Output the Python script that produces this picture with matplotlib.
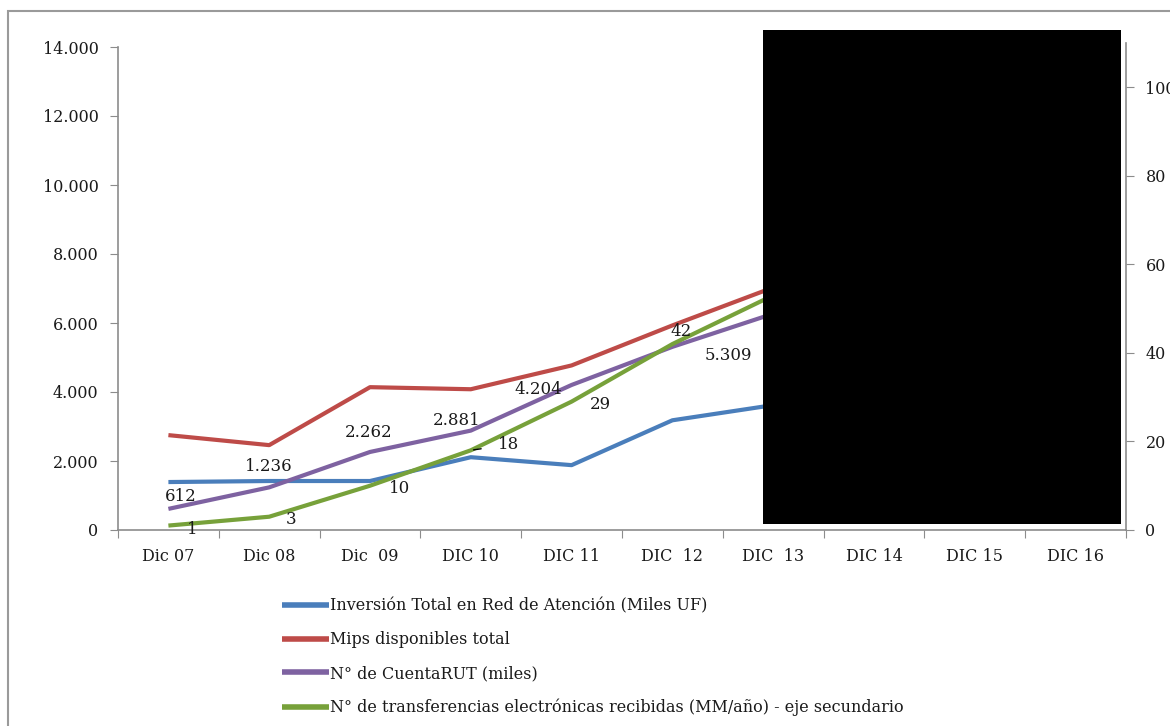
import matplotlib
matplotlib.use('Agg')
import matplotlib.pyplot as plt
from matplotlib.patches import Rectangle
from matplotlib.ticker import FuncFormatter

plt.rcParams['font.family'] = ['DejaVu Serif']

periods = ['Dic 07', 'Dic 08', 'Dic  09', 'DIC 10', 'DIC 11',
           'DIC  12', 'DIC  13', 'DIC 14', 'DIC 15', 'DIC 16']

# series known through DIC 13
inversion = [1390, 1420, 1420, 2110, 1880, 3180, 3620]
mips = [2750, 2460, 4140, 4080, 4770, 5930, 7030]
cuentarut = [612, 1236, 2262, 2881, 4204, 5309, 6270]
transferencias = [1, 3, 10, 18, 29, 42, 53]   # secondary axis

rut_labels = ['612', '1.236', '2.262', '2.881', '4.204', '5.309']
rut_offsets = [(9, 9), (0, 15), (-1, 14), (-10, 7), (-24, -3), (40, -6)]
tr_offsets = [(17, -3), (16, -2), (21, -2), (27, 4), (21, -2), (6, 9)]

C_BLUE = '#4a7ebb'
C_RED = '#be4b48'
C_PURPLE = '#7e62a1'
C_GREEN = '#77a13a'
C_AXIS = '#8c8c8c'
C_TEXT = '#1a1a1a'

fig = plt.figure(figsize=(11.7, 7.26), dpi=100)
W, H = 1170.0, 726.0

left, right, bottom = 118 / W, 1126 / W, 1 - 530 / H
ax = fig.add_axes([left, bottom, right - left, (530 - 47) / H])
ax2 = fig.add_axes([left, bottom, right - left, (530 - 43) / H])
ax2.patch.set_visible(False)

x = list(range(len(inversion)))
ax.plot(x, inversion, color=C_BLUE, lw=3, solid_capstyle='butt',
        label='Inversión Total en Red de Atención (Miles UF)')
ax.plot(x, mips, color=C_RED, lw=3, solid_capstyle='butt',
        label='Mips disponibles total')
ax.plot(x, cuentarut, color=C_PURPLE, lw=3, solid_capstyle='butt',
        label='N° de CuentaRUT (miles)')
ax2.plot(x, transferencias, color=C_GREEN, lw=3, solid_capstyle='butt',
         label='N° de transferencias electrónicas recibidas (MM/año) - eje secundario')

for i, (txt, off) in enumerate(zip(rut_labels, rut_offsets)):
    ax.annotate(txt, (i, cuentarut[i]), xytext=off, textcoords='offset points',
                ha='center', va='center', fontsize=12, color=C_TEXT)

for i, off in enumerate(tr_offsets):
    arrow = None
    if i == 3:
        arrow = dict(arrowstyle='-', color='black', lw=1, shrinkA=10, shrinkB=2)
    ax2.annotate(str(transferencias[i]), (i, transferencias[i]), xytext=off,
                 textcoords='offset points', ha='center', va='center',
                 fontsize=12, color=C_TEXT, arrowprops=arrow)

# left axis
ax.set_xlim(-0.5, len(periods) - 0.5)
ax.set_ylim(0, 14000)
ax.set_yticks(range(0, 14001, 2000))
ax.yaxis.set_major_formatter(FuncFormatter(lambda v, p: f'{int(v):,}'.replace(',', '.')))
ax.set_xticks([i - 0.5 for i in range(len(periods) + 1)])
ax.set_xticklabels([])
ax.set_xticks(range(len(periods)), minor=True)
ax.set_xticklabels(periods, minor=True)
ax.tick_params(axis='x', which='major', length=6, color=C_AXIS, direction='out')
ax.tick_params(axis='x', which='minor', length=0, pad=13, labelsize=11.5,
               labelcolor=C_TEXT)
ax.tick_params(axis='y', length=6, color=C_AXIS, labelsize=11.5,
               labelcolor=C_TEXT, pad=8)
for s in ['top', 'right']:
    ax.spines[s].set_visible(False)
for s in ['left', 'bottom']:
    ax.spines[s].set_color(C_AXIS)
    ax.spines[s].set_linewidth(1.2)

# secondary axis
ax2.set_xlim(ax.get_xlim())
ax2.set_ylim(0, 110)
ax2.set_yticks(range(0, 101, 20))
ax2.set_xticks([])
ax2.yaxis.tick_right()
ax2.tick_params(axis='y', length=6, color=C_AXIS, labelsize=11.5,
                labelcolor=C_TEXT, pad=8)
for s in ['top', 'left', 'bottom']:
    ax2.spines[s].set_visible(False)
ax2.spines['right'].set_color(C_AXIS)
ax2.spines['right'].set_linewidth(1.2)

handles = ax.get_lines() + ax2.get_lines()
leg = fig.legend(handles, [h.get_label() for h in handles], loc='upper left',
                 bbox_to_anchor=(276 / W, 1 - 591 / H), frameon=False, fontsize=11.5,
                 handlelength=2.9, handletextpad=0.1, labelspacing=1.05,
                 borderaxespad=0, labelcolor=C_TEXT)
for h in leg.legend_handles:
    h.set_linewidth(4)

# chart frame
fig.add_artist(Rectangle((8 / W, -0.1), 1.2, 1 - 11 / H + 0.1,
                         transform=fig.transFigure, fill=False,
                         edgecolor='#9a9a9a', lw=1.5))
# covered region
fig.add_artist(Rectangle((763 / W, 1 - 524 / H), (1121 - 763) / W, (524 - 30) / H,
                         transform=fig.transFigure, facecolor='black',
                         edgecolor='none', zorder=10))

fig.savefig('out.png', dpi=100)
